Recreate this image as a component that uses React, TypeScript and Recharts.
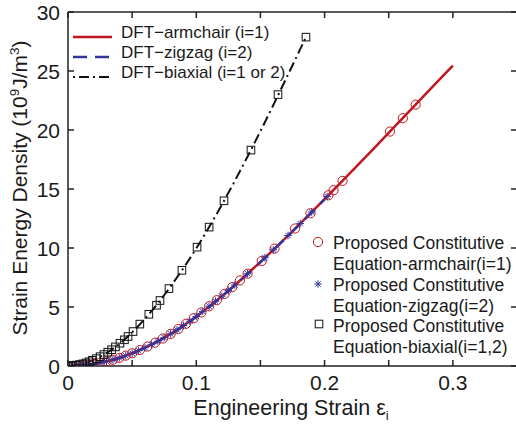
import React from 'react';
import { ComposedChart, Line, Scatter, XAxis, YAxis } from 'recharts';

const FONT = '"Liberation Sans", Arial, Helvetica, sans-serif';
const RED = '#c0161f';
const BLUE = '#34349a';
const BLACK = '#111111';
const AXIS = '#222222';

const xTicks = [0, 0.05, 0.1, 0.15, 0.2, 0.25, 0.3];
const xTickLabels = ['0', '', '0.1', '', '0.2', '', '0.3'];
const yTicks = [0, 5, 10, 15, 20, 25, 30];
const yTickLabels = ['0', '5', '10', '15', '20', '25', '30'];

// DFT armchair curve
const armLineX = [0, 0.02, 0.04, 0.06, 0.08, 0.1, 0.12, 0.14, 0.16, 0.18, 0.2, 0.22, 0.24, 0.26, 0.28, 0.3];
const armLineY = [0, 0.175, 0.69, 1.55, 2.72, 4.2, 5.92, 7.82, 9.84, 11.96, 14.14, 16.36, 18.62, 20.9, 23.18, 25.46];

// DFT zigzag curve
const zigLineX = [0, 0.02, 0.04, 0.06, 0.08, 0.1, 0.12, 0.14, 0.16, 0.18, 0.2];
const zigLineY = [0, 0.17, 0.68, 1.53, 2.7, 4.18, 5.9, 7.8, 9.82, 11.94, 14.12];

// DFT biaxial curve
const biaLineX = [0, 0.01, 0.02, 0.03, 0.04, 0.05, 0.06, 0.07, 0.08, 0.09, 0.1, 0.11, 0.12, 0.13, 0.14, 0.15, 0.16, 0.17, 0.18, 0.1855];
const biaLineY = [0, 0.14, 0.52, 1.1, 1.87, 2.85, 4.0, 5.3, 6.75, 8.3, 9.97, 11.77, 13.68, 15.68, 17.76, 19.9, 22.1, 24.35, 26.62, 27.87];

// Proposed constitutive equation – armchair (circles)
const armPtsX = [0, 0.004, 0.008, 0.012, 0.016, 0.02, 0.025, 0.03, 0.035, 0.04, 0.045, 0.05, 0.056, 0.062, 0.068, 0.074, 0.08, 0.086, 0.092, 0.098, 0.104, 0.11, 0.116, 0.122, 0.128, 0.134, 0.14, 0.151, 0.161, 0.177, 0.189, 0.203, 0.207, 0.214, 0.251, 0.261, 0.271];
const armPtsY = [0, 0.007, 0.028, 0.063, 0.11, 0.175, 0.27, 0.39, 0.53, 0.69, 0.88, 1.08, 1.35, 1.65, 1.98, 2.33, 2.72, 3.14, 3.58, 4.05, 4.54, 5.06, 5.58, 6.11, 6.68, 7.25, 7.82, 8.9, 9.95, 11.65, 12.94, 14.47, 14.9, 15.69, 19.87, 21.0, 22.15];

// Proposed constitutive equation – zigzag (stars)
const zigPtsX = [0, 0.005, 0.01, 0.015, 0.02, 0.025, 0.03, 0.035, 0.04, 0.045, 0.05, 0.055, 0.06, 0.065, 0.07, 0.075, 0.08, 0.085, 0.09, 0.095, 0.1, 0.105, 0.11, 0.115, 0.12, 0.125, 0.13, 0.14, 0.1535, 0.16, 0.1715, 0.181, 0.19, 0.202];
const zigPtsY = [0, 0.011, 0.044, 0.098, 0.175, 0.27, 0.39, 0.53, 0.69, 0.88, 1.08, 1.3, 1.55, 1.81, 2.1, 2.4, 2.72, 3.07, 3.43, 3.8, 4.2, 4.63, 5.06, 5.49, 5.92, 6.4, 6.87, 7.82, 9.18, 9.84, 11.06, 12.07, 13.05, 14.36];

// Proposed constitutive equation – biaxial (squares)
const biaPtsX = [0, 0.002, 0.004, 0.0065, 0.009, 0.0115, 0.014, 0.0165, 0.019, 0.022, 0.025, 0.028, 0.031, 0.034, 0.037, 0.0405, 0.044, 0.0468, 0.0507, 0.056, 0.063, 0.069, 0.0717, 0.0787, 0.0888, 0.1006, 0.11, 0.1216, 0.1426, 0.1637, 0.1855];
const biaPtsY = [0, 0.01, 0.03, 0.07, 0.12, 0.18, 0.26, 0.36, 0.48, 0.62, 0.79, 0.97, 1.17, 1.38, 1.62, 1.93, 2.22, 2.5, 2.92, 3.55, 4.38, 5.15, 5.55, 6.56, 8.11, 10.07, 11.77, 14.0, 18.3, 23.0, 27.87];

const zip = (xs: number[], ys: number[]) => xs.map((x, i) => ({ x, y: ys[i] }));

const armLine = zip(armLineX, armLineY);
const zigLine = zip(zigLineX, zigLineY);
const biaLine = zip(biaLineX, biaLineY);
const armPts = zip(armPtsX, armPtsY);
const zigPts = zip(zigPtsX, zigPtsY);
const biaPts = zip(biaPtsX, biaPtsY);

const findIdx = (arr: number[], v: number) => arr.findIndex((a) => Math.abs(a - v) < 1e-9);

const TICK_LEN = 6;
const TICK_W = 1.5;

function BottomTick(props: any) {
  const { x, y, payload } = props;
  const i = findIdx(xTicks, payload.value);
  const label = i >= 0 ? xTickLabels[i] : '';
  return (
    <g>
      <path d={`M${x},${y}V${y - TICK_LEN}`} stroke={AXIS} strokeWidth={TICK_W} fill="none" />
      {label ? (
        <text x={x} y={y + 23.5} textAnchor="middle" fontSize={21} fontFamily={FONT} fill="#1a1a1a" stroke="none">
          {label}
        </text>
      ) : null}
    </g>
  );
}

function TopTick(props: any) {
  const { x, y } = props;
  return <path d={`M${x},${y}V${y + TICK_LEN}`} stroke={AXIS} strokeWidth={TICK_W} fill="none" />;
}

function LeftTick(props: any) {
  const { x, y, payload } = props;
  const i = findIdx(yTicks, payload.value);
  const label = i >= 0 ? yTickLabels[i] : '';
  return (
    <g>
      <path d={`M${x},${y}H${x + TICK_LEN}`} stroke={AXIS} strokeWidth={TICK_W} fill="none" />
      <text x={x - 8} y={y + 7.5} textAnchor="end" fontSize={21} fontFamily={FONT} fill="#1a1a1a" stroke="none">
        {label}
      </text>
    </g>
  );
}

function RightTick(props: any) {
  const { x, y } = props;
  return <path d={`M${x},${y}H${x - TICK_LEN}`} stroke={AXIS} strokeWidth={TICK_W} fill="none" />;
}

const CircleMark = ({ cx, cy }: any) => (
  <circle cx={cx} cy={cy} r={4.6} fill="none" stroke={RED} strokeWidth={1} />
);

const StarMark = ({ cx, cy }: any) => {
  const r = 3.8;
  const d = r * 0.707;
  return (
    <g stroke={BLUE} strokeWidth={1}>
      <line x1={cx} y1={cy - r} x2={cx} y2={cy + r} />
      <line x1={cx - r} y1={cy} x2={cx + r} y2={cy} />
      <line x1={cx - d} y1={cy - d} x2={cx + d} y2={cy + d} />
      <line x1={cx - d} y1={cy + d} x2={cx + d} y2={cy - d} />
    </g>
  );
};

const SquareMark = ({ cx, cy }: any) => (
  <rect x={cx - 3.8} y={cy - 3.8} width={7.6} height={7.6} fill="none" stroke={BLACK} strokeWidth={1} />
);

const textStyle = { fontFamily: FONT, fill: '#1a1a1a' } as const;

function Overlay() {
  return (
    <svg width={516} height={427} style={{ position: 'absolute', left: 0, top: 0 }}>
      {/* legend 1 */}
      <line x1={73} y1={37} x2={112} y2={37} stroke={RED} strokeWidth={2.5} />
      <text x={121} y={38} fontSize={17} {...textStyle}>DFT−armchair (i=1)</text>
      <line x1={73} y1={57} x2={112} y2={57} stroke={BLUE} strokeWidth={2.5} strokeDasharray="14 8" />
      <text x={121} y={58} fontSize={17} {...textStyle}>DFT−zigzag (i=2)</text>
      <line x1={73} y1={77} x2={112} y2={77} stroke={BLACK} strokeWidth={2} strokeDasharray="2 4 10 4" />
      <text x={121} y={78} fontSize={17} {...textStyle}>DFT−biaxial (i=1 or 2)</text>

      {/* legend 2 */}
      <CircleMark cx={318} cy={242} />
      <text x={333} y={249} fontSize={17.5} {...textStyle}>Proposed Constitutive</text>
      <text x={333} y={270} fontSize={17.5} {...textStyle}>Equation-armchair(i=1)</text>
      <StarMark cx={318} cy={284} />
      <text x={333} y={291} fontSize={17.5} {...textStyle}>Proposed Constitutive</text>
      <text x={333} y={312} fontSize={17.5} {...textStyle}>Equation-zigzag(i=2)</text>
      <SquareMark cx={319} cy={324} />
      <text x={333} y={332} fontSize={17.5} {...textStyle}>Proposed Constitutive</text>
      <text x={333} y={353} fontSize={17.5} {...textStyle}>Equation-biaxial(i=1,2)</text>

      {/* axis titles */}
      <text x={291} y={415} textAnchor="middle" fontSize={21.5} {...textStyle}>
        Engineering Strain ε<tspan fontSize={13} dy={5}>i</tspan>
      </text>
      <text transform="translate(27,188) rotate(-90)" textAnchor="middle" fontSize={21} {...textStyle}>
        Strain Energy Density (10<tspan fontSize={13.5} dy={-8}>9</tspan>
        <tspan dy={8}>J/m</tspan>
        <tspan fontSize={13.5} dy={-8}>3</tspan>
        <tspan dy={8}>)</tspan>
      </text>
    </svg>
  );
}

export default function App() {
  return (
    <div style={{ position: 'absolute', left: 0, top: 0, width: 516, height: 427, overflow: 'hidden', background: '#fff' }}>
      <Overlay />
      <ComposedChart width={520} height={427} margin={{ top: 0, right: 0, bottom: 0, left: 0 }}>
        <XAxis
          xAxisId="b"
          type="number"
          dataKey="x"
          domain={[0, 0.35]}
          ticks={xTicks}
          interval={0}
          orientation="bottom"
          height={61}
          tickSize={0}
          tickMargin={0}
          tickLine={false}
          tick={<BottomTick />}
          axisLine={{ stroke: AXIS, strokeWidth: 1.5 }}
          allowDataOverflow
        />
        <XAxis
          xAxisId="t"
          type="number"
          dataKey="x"
          domain={[0, 0.35]}
          ticks={xTicks}
          interval={0}
          orientation="top"
          height={12}
          tickSize={0}
          tickMargin={0}
          tickLine={false}
          tick={<TopTick />}
          axisLine={{ stroke: AXIS, strokeWidth: 1.5 }}
          allowDataOverflow
        />
        <YAxis
          yAxisId="l"
          type="number"
          dataKey="y"
          domain={[0, 30]}
          ticks={yTicks}
          interval={0}
          orientation="left"
          width={68}
          tickSize={0}
          tickMargin={0}
          tickLine={false}
          tick={<LeftTick />}
          axisLine={{ stroke: AXIS, strokeWidth: 1.5 }}
          allowDataOverflow
        />
        <YAxis
          yAxisId="r"
          type="number"
          dataKey="y"
          domain={[0, 30]}
          ticks={yTicks}
          interval={0}
          orientation="right"
          width={3}
          tickSize={0}
          tickMargin={0}
          tickLine={false}
          tick={<RightTick />}
          axisLine={{ stroke: AXIS, strokeWidth: 1.5 }}
          allowDataOverflow
        />
        <Line xAxisId="b" yAxisId="l" data={armLine} dataKey="y" type="monotone" stroke={RED} strokeWidth={2.5} dot={false} activeDot={false} isAnimationActive={false} />
        <Line xAxisId="b" yAxisId="l" data={zigLine} dataKey="y" type="monotone" stroke={BLUE} strokeWidth={2.5} strokeDasharray="14 8" dot={false} activeDot={false} isAnimationActive={false} />
        <Line xAxisId="b" yAxisId="l" data={biaLine} dataKey="y" type="monotone" stroke={BLACK} strokeWidth={2} strokeDasharray="10 4 2 4" dot={false} activeDot={false} isAnimationActive={false} />
        <Scatter xAxisId="b" yAxisId="l" data={armPts} dataKey="y" shape={<CircleMark />} isAnimationActive={false} />
        <Scatter xAxisId="b" yAxisId="l" data={zigPts} dataKey="y" shape={<StarMark />} isAnimationActive={false} />
        <Scatter xAxisId="b" yAxisId="l" data={biaPts} dataKey="y" shape={<SquareMark />} isAnimationActive={false} />
      </ComposedChart>
    </div>
  );
}
